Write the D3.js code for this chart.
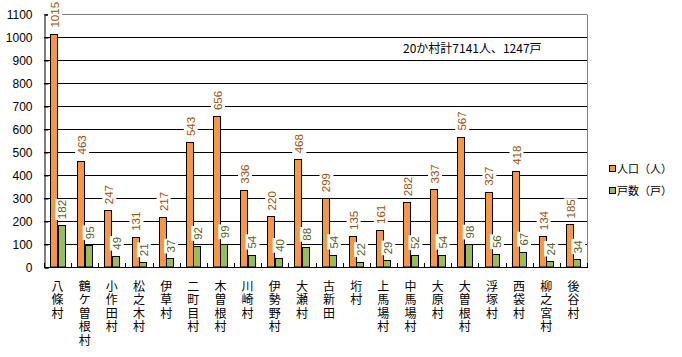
<!DOCTYPE html>
<html><head><meta charset="utf-8">
<script src="https://cdn.jsdelivr.net/npm/d3@7"></script>
<style>
html,body{margin:0;padding:0;background:#fff;}
svg{display:block;font-family:"Liberation Sans","Noto Sans CJK JP",sans-serif;}
</style></head>
<body>
<script>
const categories = ["八條村","鶴ケ曽根村","小作田村","松之木村","伊草村","二町目村","木曽根村","川崎村","伊勢野村","大瀬村","古新田","垳村","上馬場村","中馬場村","大原村","大曽根村","浮塚村","西袋村","柳之宮村","後谷村"];
const population = [1015,463,247,131,217,543,656,336,220,468,299,135,161,282,337,567,327,418,134,185];
const households = [182,95,49,21,37,92,99,54,40,88,54,22,29,52,54,98,56,67,24,34];
const yTicks = [0,100,200,300,400,500,600,700,800,900,1000,1100];
const seriesNames = ["人口(人)","戸数(戸)"];
const note = "20か村計7141人、1247戸";

(function(){
const W = 682, H = 357;
const pL = 44, pR = 587, pT = 14, pB = 267;
const svg = d3.select("body").append("svg").attr("width", W).attr("height", H);

const x = d3.scaleBand().domain(categories).range([pL, pR]).paddingInner(0).paddingOuter(0);
const y = d3.scaleLinear().domain([0, 1100]).range([pB, pT]);

const colors = ["#F79646", "#9BBB59"];
const labelColors = ["#A0500A", "#4F6228"];

// gridlines
svg.append("g").selectAll("line").data(yTicks.filter(d => d > 0)).join("line")
  .attr("x1", pL).attr("x2", pR)
  .attr("y1", d => Math.round(y(d)) + 0.5).attr("y2", d => Math.round(y(d)) + 0.5)
  .attr("stroke", d => d === 1100 ? "#808080" : "#000").attr("stroke-width", 1);
// right border
svg.append("line").attr("x1", pR + 0.5).attr("x2", pR + 0.5)
  .attr("y1", Math.round(y(1100)) + 0.5).attr("y2", pB).attr("stroke", "#808080");

// y axis
const yAxis = d3.axisLeft(y).tickValues(yTicks).tickSize(-4).tickPadding(12).tickFormat(d3.format("d"));
const gy = svg.append("g").attr("transform", `translate(${pL + 0.5},0.5)`).call(yAxis);
gy.select(".domain").attr("stroke", "#000");
gy.selectAll(".tick line").attr("stroke", "#000");
gy.selectAll("text").attr("font-size", 12).attr("fill", "#000");

// bars
const bw = x.bandwidth() * 0.275;
const groups = [population, households];
groups.forEach((vals, si) => {
  svg.append("g").selectAll("rect").data(vals).join("rect")
    .attr("x", (d, i) => Math.round(x(categories[i]) + x.bandwidth() / 2 - bw + si * bw) + 0.5)
    .attr("y", d => Math.round(y(d)) + 0.5)
    .attr("width", Math.round(bw))
    .attr("height", d => pB - Math.round(y(d)) - 0.5)
    .attr("fill", colors[si]).attr("stroke", "#000").attr("stroke-width", 1);
});

// x axis baseline and boundary ticks
svg.append("line").attr("x1", pL).attr("x2", pR + 1).attr("y1", pB + 0.5).attr("y2", pB + 0.5).attr("stroke", "#000");
const bounds = categories.map(c => x(c)).concat([pR]);
svg.append("g").selectAll("line").data(bounds).join("line")
  .attr("x1", d => Math.round(d) + 0.5).attr("x2", d => Math.round(d) + 0.5)
  .attr("y1", pB - 4).attr("y2", pB).attr("stroke", "#000");

// value labels
groups.forEach((vals, si) => {
  const g = svg.append("g");
  vals.forEach((v, i) => {
    const cx = x(categories[i]) + x.bandwidth() / 2 - bw / 2 + si * bw + 1;
    const lg = g.append("g").attr("transform", `translate(${cx},${y(v) - 6}) rotate(-90)`);
    const t = lg.append("text").text(v).attr("font-size", 11.5).attr("fill", labelColors[si])
      .attr("text-anchor", "start").attr("dy", "0.36em");
    const bb = t.node().getBBox();
    lg.insert("rect", "text").attr("x", bb.x - 1).attr("y", bb.y - 1)
      .attr("width", bb.width + 2).attr("height", bb.height + 2).attr("fill", "#fff");
  });
});

// x category labels (vertical, one glyph per row)
const xl = svg.append("g").attr("font-family", "'Noto Sans CJK JP',sans-serif").attr("font-size", 12);
categories.forEach(c => {
  Array.from(c).forEach((ch, k) => {
    xl.append("text").attr("text-anchor", "middle").attr("fill", "#000")
      .attr("x", x(c) + x.bandwidth() / 2).attr("y", 291 + k * 13.4).text(ch);
  });
});

// note
svg.append("text").attr("x", 403).attr("y", 53).attr("font-size", 12)
  .attr("font-family", "'Noto Sans CJK JP',sans-serif").text(note);

// legend
const leg = svg.append("g").attr("font-family", "'Noto Sans CJK JP',sans-serif").attr("font-size", 11);
seriesNames.forEach((n, i) => {
  const yy = 169 + i * 22;
  leg.append("rect").attr("x", 609.5).attr("y", yy - 3.5).attr("width", 6).attr("height", 6)
    .attr("fill", colors[i]).attr("stroke", "#000");
  leg.append("text").attr("x", 617).attr("y", yy + 4).text(n.replace("(", "（").replace(")", "）"));
});
})();
</script>
</body></html>
